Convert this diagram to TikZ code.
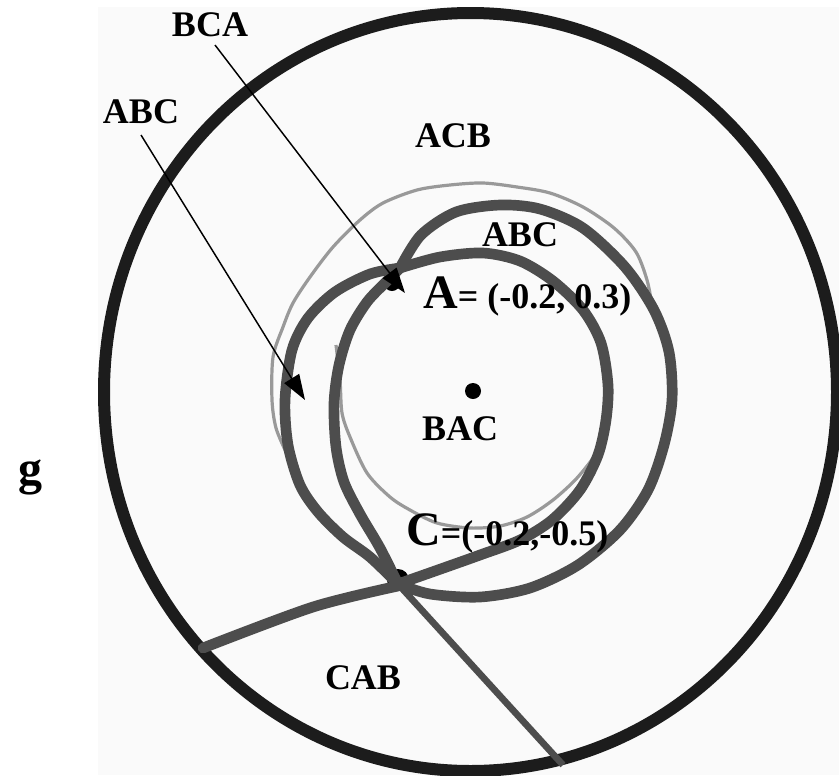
\documentclass[tikz,border=0pt]{standalone}
\usepackage{fontspec}
\setmainfont{Liberation Serif}
\usetikzlibrary{arrows.meta}
\definecolor{ringc}{HTML}{1C1C1C}
\definecolor{strandc}{HTML}{4D4D4D}
\definecolor{thinc}{HTML}{999999}
\definecolor{bgc}{HTML}{FAFAFA}
\begin{document}
\begin{tikzpicture}[x=0.75pt,y=-0.75pt,
  ring/.style={draw=ringc,line width=9pt},
  strand/.style={draw=strandc,line width=8pt,line cap=round,line join=round},
  thinline/.style={draw=thinc,line width=2.4pt},
  pointer/.style={draw=black,line width=1.1pt,-{Triangle[length=19pt,width=13pt]}},
  lbl/.style={font=\bfseries\fontsize{27pt}{30pt}\selectfont,inner sep=0pt,anchor=base},
  biglbl/.style={font=\bfseries\fontsize{36pt}{40pt}\selectfont,inner sep=0pt,anchor=base}
]
\useasboundingbox (0,0) rectangle (839,775);
\fill[bgc] (98,7) rectangle (839,775);
\draw[ring] (470.5,392) ellipse [x radius=366.5, y radius=379];

% named points
\coordinate (A) at (400,268);
\coordinate (C) at (398,584);
\coordinate (Lend) at (203,648);
\coordinate (Rend) at (563,765);

% thin gray curves
\draw[thinline] plot[smooth] coordinates {(286,452) (276,428) (272,400) (273,357) (283,327) (293,303) (310,277) (333,247) (360,220) (383,203) (417,190) (450,185) (483,183) (517,187) (550,193) (583,207) (614,228) (636,252) (647,280) (652,305)};
\draw[thinline] plot[smooth] coordinates {(336,345) (340,380) (342,413) (350,437) (367,473) (390,497) (410,510) (437,523) (470,528) (500,526) (527,517) (553,500) (577,478) (597,452) (606,428)};

% black point markers
\fill[black] (392,283) circle [radius=8];
\fill[black] (398,580) circle [radius=11];

% thick strands
\draw[strand] plot[smooth] coordinates {(398,584) (430,594) (480,597) (530,588) (578,565) (620,530) (648,490) (664,445) (672,400) (669,352) (654,310) (625,267) (583,228) (540,209) (500,205) (456,212) (421,235) (400,268)};
\draw[strand] plot[smooth] coordinates {(400,268) (440,257) (483,253) (520,261) (553,281) (583,310) (601,343) (608,385) (606,420) (598,455) (580,490) (552,520) (520,540) (480,555) (435,571) (398,584)};
\draw[strand] plot[smooth] coordinates {(400,268) (370,274) (335,292) (308,318) (292,350) (285,400) (288,445) (300,485) (318,512) (343,537) (370,557) (398,584)};
\draw[strand] plot[smooth] coordinates {(400,268) (385,283) (367,302) (350,330) (339,365) (334,403) (336,447) (344,482) (360,514) (380,548) (398,584)};
\draw[strand] plot[smooth] coordinates {(398,586) (313,607) (203,648)};
\draw[draw=strandc,line width=5pt] (C) -- (Rend);

% centre point
\fill[black] (473,391) circle [radius=8];

% labels
\node[lbl] (bca) at (210,36) {BCA};
\node[lbl] (abc1) at (141,123) {ABC};
\node[lbl] (acb) at (453,147) {ACB};
\node[lbl] (abc2) at (520,246) {ABC};
\node[lbl] (bac) at (460,440) {BAC};
\node[lbl] (cab) at (363,689) {CAB};
\node[biglbl,anchor=base west] (ptA) at (423,308) {A\fontsize{27pt}{30pt}\selectfont= (-0.2, 0.3)};
\node[biglbl,anchor=base west] (ptC) at (406,545) {C\fontsize{27pt}{30pt}\selectfont=(-0.2,-0.5)};
\node[biglbl] (g) at (30,484) {g};

% pointers
\coordinate (p1s) at (215,45);
\coordinate (p1e) at (405,293);
\coordinate (p2s) at (141,135);
\coordinate (p2e) at (305,400);
\draw[pointer] (p1s) -- (p1e);
\draw[pointer] (p2s) -- (p2e);
\end{tikzpicture}
\end{document}
